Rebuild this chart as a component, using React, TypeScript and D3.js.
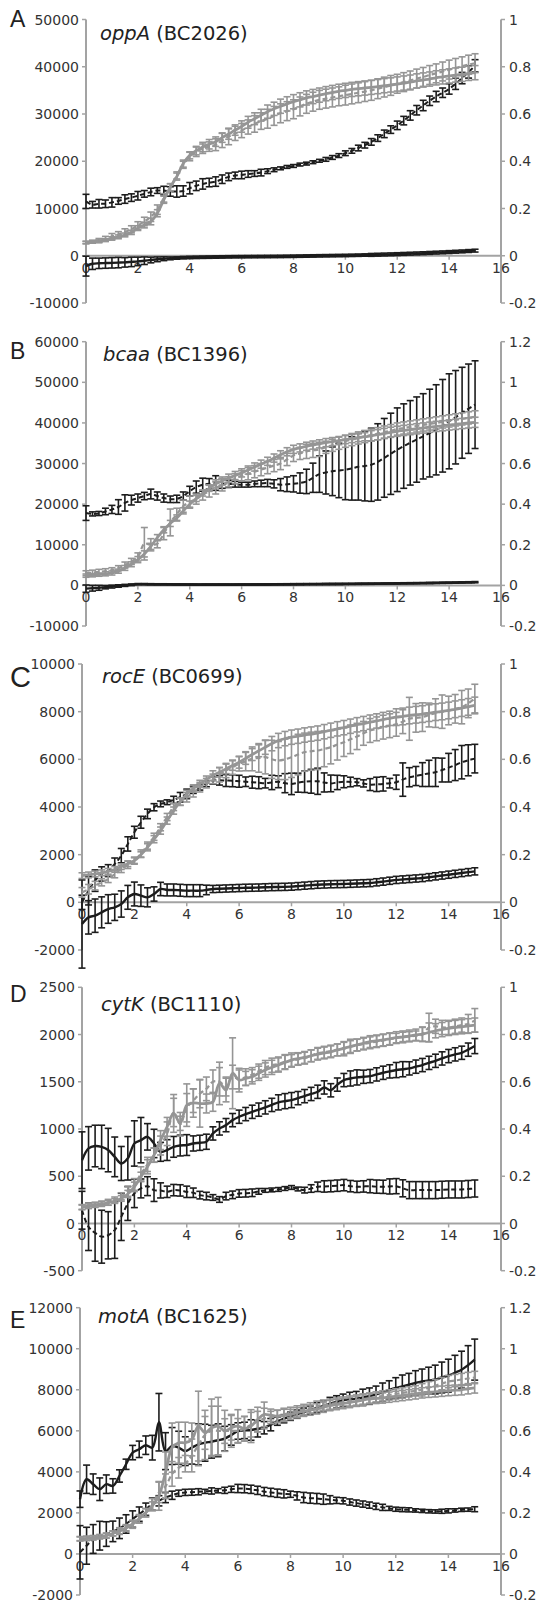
import React from "react";
import * as d3 from "d3";

// sampling times (h)
const times = [0,0.25,0.5,0.75,1,1.25,1.5,1.75,2,2.25,2.5,2.75,3,3.25,3.5,3.75,4,4.25,4.5,4.75,5,5.25,5.5,5.75,6,6.25,6.5,6.75,7,7.25,7.5,7.75,8,8.25,8.5,8.75,9,9.25,9.5,9.75,10,10.25,10.5,10.75,11,11.25,11.5,11.75,12,12.25,12.5,12.75,13,13.25,13.5,13.75,14,14.25,14.5,14.75,15];
const xTicks = [0, 2, 4, 6, 8, 10, 12, 14, 16];
const odTicks1 = [-0.2, 0, 0.2, 0.4, 0.6, 0.8, 1];
const odTicks12 = [-0.2, 0, 0.2, 0.4, 0.6, 0.8, 1, 1.2];

// A - oppA
const aFluoTicks = [-10000, 0, 10000, 20000, 30000, 40000, 50000];
const aBlkDash = [11500,10800,11000,11000,11300,11600,12000,12300,12700,13100,13500,13800,13800,13600,13600,13700,
  14300,14800,15200,15500,15700,16200,16700,17000,17100,17300,17400,17600,17900,18200,18500,18800,
  19000,19300,19500,19800,20100,20400,20800,21200,21700,22200,22800,23400,24100,24900,25800,26700,
  27600,28600,29700,30800,31800,32800,33700,34500,35300,36400,37600,38900,40200];
const aBlkDashErr = [1500,700,900,800,1000,700,900,800,900,700,800,600,900,1000,1200,1100,
  1200,1000,1100,900,1000,900,800,700,800,700,600,700,500,400,300,300,
  300,300,300,300,300,400,400,400,500,500,600,600,700,700,800,800,
  900,900,1000,1000,1100,1000,1100,1000,1100,1200,1200,1300,1300];
const aBlkSolid = [-2200,-1700,-1600,-1550,-1500,-1450,-1400,-1300,-1200,-1050,-900,-750,-630,-550,-480,-420,
  -370,-340,-310,-290,-270,-250,-230,-210,-200,-190,-180,-170,-160,-150,-140,-120,
  -100,-80,-60,-40,-20,0,20,40,60,90,120,150,180,220,260,300,
  340,390,440,490,540,600,660,720,780,850,920,1000,1080];
const aBlkSolidErr = [2100,1200,1100,1100,1100,1100,1000,1000,900,800,600,500,400,300,250,250,
  250,250,250,250,250,250,250,250,250,250,250,250,250,250,250,250,
  250,250,250,250,250,250,250,250,250,250,250,250,300,300,300,300,
  300,300,300,300,300,300,300,300,300,300,300,300,300];
const aGrySolid = [0.056,0.058,0.061,0.066,0.073,0.08,0.088,0.099,0.117,0.13,0.145,0.18,0.237,0.29,0.335,0.39,
  0.425,0.445,0.46,0.472,0.483,0.5,0.515,0.532,0.547,0.565,0.58,0.595,0.61,0.622,0.633,0.643,
  0.652,0.66,0.668,0.674,0.68,0.686,0.691,0.696,0.7,0.704,0.707,0.71,0.713,0.716,0.72,0.723,
  0.727,0.731,0.735,0.74,0.744,0.748,0.753,0.757,0.761,0.765,0.768,0.772,0.775];
const aGrySolidErr = [0.005,0.005,0.006,0.006,0.007,0.008,0.008,0.009,0.01,0.012,0.014,0.015,0.015,0.015,0.015,0.015,
  0.015,0.018,0.02,0.02,0.02,0.02,0.022,0.022,0.024,0.025,0.025,0.025,0.028,0.028,0.03,0.03,
  0.03,0.03,0.03,0.03,0.03,0.03,0.03,0.03,0.03,0.03,0.03,0.03,0.03,0.03,0.03,0.03,
  0.03,0.03,0.03,0.03,0.03,0.03,0.03,0.03,0.03,0.03,0.03,0.03,0.03];
const aGryDash = [0.056,0.06,0.065,0.072,0.082,0.09,0.1,0.112,0.128,0.145,0.165,0.195,0.245,0.29,0.34,0.385,
  0.42,0.44,0.453,0.462,0.47,0.488,0.505,0.518,0.53,0.545,0.558,0.57,0.58,0.592,0.603,0.612,
  0.62,0.632,0.643,0.652,0.66,0.665,0.67,0.675,0.68,0.685,0.69,0.695,0.7,0.707,0.714,0.721,
  0.728,0.735,0.742,0.75,0.757,0.765,0.772,0.78,0.788,0.795,0.802,0.809,0.815];
const aGryDashErr = [0.005,0.006,0.008,0.01,0.012,0.012,0.014,0.015,0.016,0.018,0.02,0.02,0.018,0.015,0.015,0.015,
  0.018,0.02,0.02,0.02,0.025,0.03,0.035,0.03,0.03,0.03,0.035,0.035,0.04,0.04,0.04,0.04,
  0.04,0.04,0.04,0.04,0.04,0.04,0.04,0.04,0.042,0.042,0.042,0.042,0.042,0.042,0.042,0.042,
  0.04,0.04,0.04,0.04,0.04,0.04,0.04,0.04,0.04,0.04,0.04,0.04,0.04];

// B - bcaa
const bFluoTicks = [-10000, 0, 10000, 20000, 30000, 40000, 50000, 60000];
const bBlkDash = [17800,17600,17700,18200,18700,19300,20300,21000,21500,22000,22500,22000,21500,21200,21300,22000,
  23200,24200,24800,25000,25200,25100,25000,24900,24800,24800,25000,25100,25200,25000,24800,24900,
  25000,25200,25600,26500,27400,27800,28100,28300,28500,28800,29200,29400,29700,30400,31400,32400,
  33400,34300,35100,35900,36700,37500,38300,39300,40400,41400,42500,43500,44500];
const bBlkDashErr = [1800,500,500,800,1000,1800,2000,1200,1000,900,1200,1000,1000,800,900,1000,
  1200,1500,1600,1300,1800,1200,900,700,600,600,700,800,900,1000,1500,1800,
  2000,2500,3000,3600,4500,5300,6000,6700,7400,7800,8200,8600,9000,9400,9700,10000,
  10300,10400,10400,10500,10500,10800,11100,11400,11700,11500,11200,11000,10800];
const bBlkSolid = [-800,-700,-600,-450,-300,-150,0,150,300,300,270,250,250,240,230,220,
  210,200,200,200,200,200,200,200,210,215,220,225,230,240,250,260,
  280,290,300,310,320,330,340,350,360,375,390,405,420,435,450,465,
  480,500,520,540,560,585,610,635,660,690,720,750,790];
const bBlkSolidErr = [900,700,600,400,350,300,250,200,150,150,150,150,150,150,150,150,
  150,150,150,150,150,150,150,150,150,150,150,150,150,150,150,150,
  150,150,150,150,150,150,150,150,150,150,150,150,150,150,150,150,
  150,150,150,150,150,150,150,150,150,150,150,150,150];
const bGrySolid = [0.048,0.05,0.053,0.057,0.061,0.07,0.086,0.104,0.127,0.155,0.192,0.235,0.274,0.305,0.332,0.367,
  0.4,0.428,0.455,0.478,0.5,0.514,0.528,0.541,0.554,0.568,0.583,0.597,0.611,0.627,0.643,0.658,
  0.67,0.677,0.685,0.691,0.697,0.703,0.708,0.713,0.718,0.723,0.728,0.732,0.737,0.742,0.748,0.754,
  0.759,0.763,0.767,0.771,0.775,0.779,0.783,0.786,0.79,0.793,0.797,0.8,0.803];
const bGrySolidErr = [0.008,0.008,0.008,0.01,0.01,0.01,0.012,0.012,0.015,0.015,0.015,0.015,0.015,0.015,0.015,0.015,
  0.015,0.015,0.015,0.015,0.02,0.02,0.02,0.02,0.02,0.02,0.02,0.02,0.02,0.02,0.02,0.02,
  0.02,0.02,0.02,0.02,0.02,0.02,0.02,0.02,0.02,0.02,0.02,0.02,0.025,0.025,0.025,0.025,
  0.025,0.025,0.025,0.025,0.025,0.025,0.025,0.025,0.025,0.025,0.025,0.025,0.025];
const bGryDash = [0.06,0.063,0.067,0.07,0.075,0.085,0.1,0.118,0.14,0.205,0.2,0.205,0.255,0.31,0.35,0.39,
  0.41,0.425,0.445,0.465,0.48,0.495,0.51,0.525,0.54,0.55,0.56,0.57,0.58,0.59,0.6,0.62,
  0.64,0.65,0.66,0.665,0.67,0.68,0.69,0.7,0.71,0.718,0.726,0.733,0.74,0.747,0.755,0.762,
  0.77,0.775,0.78,0.785,0.79,0.795,0.8,0.805,0.81,0.815,0.82,0.825,0.83];
const bGryDashErr = [0.012,0.012,0.012,0.012,0.012,0.012,0.015,0.015,0.02,0.08,0.03,0.02,0.03,0.066,0.03,0.03,
  0.03,0.025,0.025,0.03,0.03,0.03,0.025,0.025,0.025,0.03,0.03,0.03,0.03,0.03,0.03,0.03,
  0.03,0.03,0.035,0.035,0.035,0.03,0.03,0.03,0.03,0.03,0.03,0.03,0.03,0.03,0.03,0.03,
  0.03,0.03,0.03,0.03,0.03,0.03,0.03,0.03,0.03,0.03,0.03,0.03,0.03];

// C - rocE
const cFluoTicks = [-2000, 0, 2000, 4000, 6000, 8000, 10000];
const cBlkDash = [0,490,910,1190,1330,1610,1960,2450,2940,3360,3710,3990,4130,4200,4300,4410,
  4550,4720,4830,4970,5110,5120,5110,5100,5080,5060,5040,5020,5000,5030,5060,5000,
  4970,5020,5060,5080,5080,5030,4990,5030,5060,5050,5040,4990,4940,4950,4970,5000,
  5040,5150,5250,5300,5360,5410,5460,5550,5650,5760,5880,5960,6030];
const cBlkDashErr = [300,600,450,300,250,250,300,300,250,250,200,150,120,100,150,200,
  200,150,120,120,150,200,250,250,250,200,250,250,200,300,250,400,
  450,400,450,500,550,400,350,300,250,200,150,150,250,300,300,200,
  300,700,400,400,500,550,600,500,600,650,700,650,600];
const cBlkSolid = [-910,-630,-560,-420,-280,-210,-70,210,350,280,210,350,560,520,520,505,
  490,490,490,520,560,570,580,590,600,610,615,620,630,640,645,650,
  660,680,700,720,740,750,760,765,770,780,790,800,810,840,870,905,
  940,960,980,1000,1020,1055,1090,1125,1160,1195,1230,1265,1300];
const cBlkSolidErr = [1850,700,700,650,600,550,550,500,500,450,400,300,280,250,250,250,
  250,250,250,200,150,150,150,150,150,150,150,150,150,150,150,150,
  150,150,150,150,150,150,150,150,150,150,150,150,150,150,150,150,
  150,150,150,150,150,150,150,150,150,150,150,150,150];
const cGrySolid = [0.112,0.115,0.119,0.124,0.13,0.138,0.15,0.162,0.175,0.2,0.231,0.265,0.301,0.343,0.385,0.422,
  0.455,0.478,0.497,0.515,0.532,0.546,0.56,0.574,0.588,0.604,0.62,0.636,0.651,0.666,0.679,0.687,
  0.693,0.697,0.702,0.706,0.71,0.716,0.722,0.728,0.733,0.739,0.745,0.75,0.756,0.761,0.767,0.772,
  0.777,0.78,0.784,0.787,0.79,0.794,0.798,0.801,0.805,0.81,0.815,0.82,0.826];
const cGrySolidErr = [0.012,0.012,0.012,0.012,0.012,0.012,0.012,0.012,0.012,0.012,0.015,0.015,0.015,0.015,0.015,0.015,
  0.015,0.015,0.015,0.015,0.02,0.02,0.02,0.02,0.025,0.025,0.025,0.025,0.03,0.03,0.03,0.03,
  0.03,0.03,0.03,0.03,0.03,0.03,0.03,0.03,0.03,0.03,0.03,0.03,0.03,0.03,0.03,0.03,
  0.035,0.035,0.035,0.035,0.035,0.035,0.035,0.035,0.035,0.035,0.035,0.035,0.035];
const cGryDash = [0.042,0.055,0.07,0.084,0.098,0.118,0.14,0.157,0.175,0.205,0.238,0.275,0.315,0.358,0.4,0.422,
  0.441,0.462,0.483,0.5,0.518,0.535,0.553,0.567,0.581,0.592,0.602,0.606,0.609,0.6,0.595,0.6,
  0.609,0.62,0.63,0.634,0.637,0.644,0.651,0.662,0.672,0.684,0.696,0.709,0.721,0.728,0.735,0.741,
  0.747,0.758,0.77,0.774,0.777,0.786,0.794,0.8,0.805,0.812,0.819,0.835,0.855];
const cGryDashErr = [0.02,0.02,0.018,0.015,0.015,0.015,0.015,0.015,0.015,0.015,0.015,0.015,0.015,0.015,0.015,0.015,
  0.02,0.02,0.02,0.02,0.02,0.03,0.03,0.03,0.03,0.04,0.05,0.06,0.07,0.08,0.08,0.085,
  0.085,0.085,0.08,0.08,0.08,0.075,0.07,0.065,0.06,0.06,0.055,0.05,0.05,0.05,0.05,0.05,
  0.05,0.05,0.09,0.06,0.06,0.05,0.06,0.07,0.06,0.06,0.07,0.06,0.06];

// D - cytK
const dFluoTicks = [-500, 0, 500, 1000, 1500, 2000, 2500];
const dBlkSolid = [670,795,820,810,777,705,635,690,847,882,917,847,758,777,811,825,
  830,847,854,865,953,1006,1041,1094,1130,1158,1182,1205,1229,1255,1282,1295,
  1306,1327,1348,1371,1394,1440,1410,1470,1518,1535,1546,1553,1560,1578,1595,1610,
  1624,1633,1642,1660,1677,1700,1722,1747,1772,1790,1807,1840,1878];
const dBlkSolidErr = [300,230,220,230,230,210,180,230,240,240,140,150,100,110,110,110,
  110,80,80,80,70,70,70,70,70,70,70,70,70,70,80,80,
  80,70,70,70,70,70,70,70,70,80,80,70,70,70,70,70,
  80,80,70,70,70,70,70,70,70,70,70,70,80];
const dBlkDash = [140,-36,-100,-140,-125,-70,70,212,318,371,395,353,350,335,353,350,
  335,325,300,290,275,254,290,303,318,320,325,340,350,355,360,370,
  381,365,353,370,388,392,395,400,406,395,388,392,395,390,388,392,
  395,372,353,353,353,353,353,357,360,360,360,365,370];
const dBlkDashErr = [200,250,300,280,250,300,250,180,150,100,100,120,80,60,60,60,
  60,50,40,40,30,30,40,40,40,40,40,30,20,20,20,20,
  20,20,30,40,50,60,60,60,60,60,60,60,70,70,70,80,
  80,90,90,90,90,90,90,90,90,90,90,90,90];
const dGrySolid = [0.068,0.073,0.078,0.082,0.087,0.095,0.106,0.125,0.155,0.197,0.24,0.289,0.353,0.409,0.466,0.424,
  0.501,0.51,0.508,0.508,0.515,0.593,0.565,0.636,0.607,0.614,0.621,0.636,0.65,0.661,0.671,0.682,
  0.692,0.698,0.703,0.71,0.717,0.722,0.727,0.735,0.742,0.749,0.756,0.763,0.77,0.773,0.777,0.782,
  0.787,0.79,0.794,0.798,0.802,0.809,0.816,0.821,0.826,0.83,0.833,0.837,0.84];
const dGrySolidErr = [0.01,0.01,0.01,0.01,0.01,0.01,0.012,0.015,0.02,0.02,0.03,0.03,0.04,0.04,0.08,0.03,
  0.09,0.06,0.1,0.04,0.04,0.09,0.05,0.15,0.05,0.03,0.03,0.03,0.03,0.03,0.03,0.03,
  0.03,0.025,0.025,0.025,0.025,0.025,0.025,0.025,0.025,0.025,0.025,0.025,0.025,0.025,0.025,0.025,
  0.025,0.025,0.025,0.025,0.03,0.04,0.03,0.03,0.03,0.03,0.03,0.03,0.03];
const dGryDash = [0.07,0.075,0.08,0.085,0.09,0.1,0.115,0.135,0.165,0.21,0.25,0.29,0.33,0.38,0.47,0.42,
  0.49,0.52,0.55,0.57,0.6,0.6,0.58,0.62,0.61,0.62,0.63,0.645,0.66,0.67,0.675,0.685,
  0.69,0.695,0.7,0.71,0.72,0.725,0.73,0.735,0.74,0.75,0.755,0.76,0.765,0.77,0.775,0.78,
  0.785,0.79,0.792,0.795,0.8,0.83,0.835,0.83,0.83,0.835,0.84,0.845,0.86];
const dGryDashErr = [0.01,0.01,0.01,0.01,0.012,0.012,0.015,0.02,0.025,0.03,0.03,0.03,0.04,0.05,0.06,0.05,
  0.06,0.05,0.06,0.05,0.05,0.06,0.04,0.05,0.04,0.035,0.03,0.03,0.03,0.03,0.03,0.03,
  0.025,0.025,0.025,0.025,0.025,0.025,0.025,0.025,0.03,0.03,0.025,0.025,0.025,0.025,0.025,0.025,
  0.02,0.02,0.02,0.02,0.03,0.06,0.03,0.03,0.03,0.03,0.03,0.04,0.05];

// E - motA
const eFluoTicks = [-2000, 0, 2000, 4000, 6000, 8000, 10000, 12000];
const eBlkSolid = [2670,3640,3400,3155,3400,3315,3800,4370,4940,5100,5300,5180,6420,5010,5260,5180,
  5010,5180,5340,5420,5470,5540,5620,5800,5990,6020,6040,6100,6150,6300,6470,6590,
  6710,6810,6910,7010,7120,7220,7330,7410,7490,7530,7570,7630,7690,7780,7880,7990,
  8090,8170,8250,8330,8410,8450,8500,8600,8690,8830,8980,9200,9470];
const eBlkSolidErr = [400,690,500,550,450,350,300,250,350,400,450,600,1400,900,900,800,
  700,800,1000,900,800,800,600,500,400,400,500,400,300,300,200,200,
  200,200,200,200,250,250,300,300,300,350,350,400,400,400,450,450,
  500,550,550,600,600,650,700,750,800,850,900,950,1000];
const eBlkDash = [80,400,730,890,970,1100,1250,1460,1700,1940,2180,2430,2590,2750,2860,2960,
  3000,3010,3030,3050,3070,3080,3100,3150,3190,3180,3150,3100,3040,3000,2960,2930,
  2910,2830,2750,2720,2700,2670,2640,2610,2590,2530,2480,2430,2380,2320,2270,2220,
  2180,2160,2150,2120,2100,2080,2070,2080,2100,2120,2150,2160,2180];
const eBlkDashErr = [1300,900,700,700,600,500,500,450,400,350,300,300,250,250,200,150,
  150,150,150,100,150,100,150,150,200,200,200,200,200,200,200,200,
  150,200,250,250,250,250,200,150,150,150,150,150,150,150,150,100,
  100,100,100,80,80,80,80,100,100,80,80,80,120];
const eGrySolid = [0.073,0.075,0.078,0.083,0.089,0.1,0.113,0.128,0.146,0.172,0.202,0.234,0.283,0.397,0.518,0.542,
  0.542,0.558,0.623,0.59,0.615,0.623,0.599,0.615,0.623,0.61,0.623,0.655,0.68,0.676,0.671,0.675,
  0.68,0.688,0.696,0.701,0.707,0.715,0.723,0.728,0.733,0.738,0.744,0.75,0.756,0.758,0.76,0.764,
  0.768,0.772,0.776,0.78,0.785,0.788,0.79,0.793,0.796,0.798,0.8,0.805,0.809];
const eGrySolidErr = [0.01,0.01,0.01,0.01,0.012,0.012,0.015,0.015,0.015,0.02,0.02,0.02,0.07,0.1,0.12,0.1,
  0.1,0.08,0.17,0.08,0.14,0.14,0.06,0.06,0.08,0.06,0.08,0.06,0.06,0.03,0.03,0.03,
  0.025,0.025,0.025,0.025,0.025,0.025,0.025,0.025,0.025,0.025,0.025,0.025,0.025,0.025,0.025,0.025,
  0.025,0.025,0.025,0.025,0.025,0.025,0.025,0.025,0.025,0.025,0.025,0.025,0.025];
const eGryDash = [0.075,0.077,0.08,0.085,0.09,0.1,0.11,0.125,0.145,0.17,0.2,0.24,0.3,0.33,0.39,0.42,
  0.44,0.48,0.53,0.58,0.6,0.6,0.6,0.6,0.6,0.61,0.63,0.645,0.66,0.665,0.67,0.68,
  0.69,0.697,0.704,0.712,0.72,0.725,0.73,0.735,0.74,0.745,0.75,0.755,0.76,0.765,0.77,0.775,
  0.78,0.785,0.79,0.795,0.8,0.81,0.82,0.83,0.84,0.845,0.85,0.855,0.86];
const eGryDashErr = [0.01,0.01,0.01,0.01,0.012,0.012,0.015,0.015,0.02,0.02,0.02,0.03,0.05,0.06,0.06,0.05,
  0.04,0.08,0.1,0.12,0.12,0.12,0.1,0.08,0.06,0.06,0.06,0.05,0.05,0.03,0.03,0.03,
  0.025,0.025,0.025,0.025,0.025,0.025,0.025,0.025,0.025,0.025,0.025,0.025,0.025,0.025,0.025,0.025,
  0.025,0.025,0.025,0.025,0.03,0.03,0.03,0.03,0.03,0.03,0.03,0.03,0.03];

const BLACK = "#1c1c1c";
const GREY = "#959595";
const AXIS = "#a3a3a3";
const FONT = "'DejaVu Sans', Verdana, sans-serif";

type Series = { v: number[]; e: number[]; right: boolean; dashed: boolean };

const panels = [
  { letter: "A", gene: "oppA", code: "(BC2026)", fluo: aFluoTicks, od: odTicks1, left: 86, top: 19.5, bottom: 303, letterY: 27, titleX: 100, titleY: 40,
    series: [
      { v: aBlkSolid, e: aBlkSolidErr, right: false, dashed: false },
      { v: aBlkDash, e: aBlkDashErr, right: false, dashed: true },
      { v: aGrySolid, e: aGrySolidErr, right: true, dashed: false },
      { v: aGryDash, e: aGryDashErr, right: true, dashed: true },
    ] },
  { letter: "B", gene: "bcaa", code: "(BC1396)", fluo: bFluoTicks, od: odTicks12, left: 86, top: 341.7, bottom: 626, letterY: 359, titleX: 103, titleY: 361,
    series: [
      { v: bBlkSolid, e: bBlkSolidErr, right: false, dashed: false },
      { v: bBlkDash, e: bBlkDashErr, right: false, dashed: true },
      { v: bGrySolid, e: bGrySolidErr, right: true, dashed: false },
      { v: bGryDash, e: bGryDashErr, right: true, dashed: true },
    ] },
  { letter: "C", gene: "rocE", code: "(BC0699)", fluo: cFluoTicks, od: odTicks1, left: 82, top: 664, bottom: 950, letterY: 687, titleX: 102, titleY: 683,
    series: [
      { v: cBlkSolid, e: cBlkSolidErr, right: false, dashed: false },
      { v: cBlkDash, e: cBlkDashErr, right: false, dashed: true },
      { v: cGrySolid, e: cGrySolidErr, right: true, dashed: false },
      { v: cGryDash, e: cGryDashErr, right: true, dashed: true },
    ] },
  { letter: "D", gene: "cytK", code: "(BC1110)", fluo: dFluoTicks, od: odTicks1, left: 82, top: 987.3, bottom: 1270.7, letterY: 1002, titleX: 101, titleY: 1011,
    series: [
      { v: dBlkSolid, e: dBlkSolidErr, right: false, dashed: false },
      { v: dBlkDash, e: dBlkDashErr, right: false, dashed: true },
      { v: dGrySolid, e: dGrySolidErr, right: true, dashed: false },
      { v: dGryDash, e: dGryDashErr, right: true, dashed: true },
    ] },
  { letter: "E", gene: "motA", code: "(BC1625)", fluo: eFluoTicks, od: odTicks12, left: 80, top: 1307.7, bottom: 1595, letterY: 1328, titleX: 98, titleY: 1323,
    series: [
      { v: eBlkSolid, e: eBlkSolidErr, right: false, dashed: false },
      { v: eBlkDash, e: eBlkDashErr, right: false, dashed: true },
      { v: eGrySolid, e: eGrySolidErr, right: true, dashed: false },
      { v: eGryDash, e: eGryDashErr, right: true, dashed: true },
    ] },
];

const RIGHT = 501;

function Panel({ p }: { p: (typeof panels)[number] }) {
  const x = d3.scaleLinear().domain([0, 16]).range([p.left, RIGHT]);
  const yL = d3.scaleLinear().domain([p.fluo[0], p.fluo[p.fluo.length - 1]]).range([p.bottom, p.top]);
  const yR = d3.scaleLinear().domain([p.od[0], p.od[p.od.length - 1]]).range([p.bottom, p.top]);
  const y0 = yL(0);

  const drawSeries = (s: Series, k: number) => {
    const y = s.right ? yR : yL;
    const color = s.right ? GREY : BLACK;
    const line = d3
      .line<number>()
      .x((_, i) => x(times[i]))
      .y((d) => y(d))
      .curve(d3.curveCatmullRom.alpha(0.5));
    return (
      <g key={k}>
        {s.v.map((d, i) => {
          const cx = x(times[i]);
          const y1 = y(d - s.e[i]);
          const y2 = y(d + s.e[i]);
          return (
            <g key={i} stroke={color} strokeWidth={1.6}>
              <line x1={cx} x2={cx} y1={y1} y2={y2} />
              <line x1={cx - 3.5} x2={cx + 3.5} y1={y1} y2={y1} />
              <line x1={cx - 3.5} x2={cx + 3.5} y1={y2} y2={y2} />
            </g>
          );
        })}
        <path
          d={line(s.v) || ""}
          fill="none"
          stroke={color}
          strokeWidth={s.right ? (s.dashed ? 2.2 : 2.8) : s.dashed ? 2 : 2.4}
          strokeDasharray={s.dashed ? "5,3" : undefined}
        />
      </g>
    );
  };

  return (
    <g>
      {/* axes */}
      <line x1={p.left} x2={p.left} y1={p.top} y2={p.bottom} stroke={AXIS} strokeWidth={2} />
      <line x1={RIGHT} x2={RIGHT} y1={p.top} y2={p.bottom} stroke={AXIS} strokeWidth={2} />
      <line x1={p.left} x2={RIGHT} y1={y0} y2={y0} stroke={AXIS} strokeWidth={2} />
      {p.fluo.map((t) => (
        <g key={"l" + t}>
          <line x1={p.left - 4} x2={p.left} y1={yL(t)} y2={yL(t)} stroke={AXIS} strokeWidth={1.5} />
          <text x={p.left - 7} y={yL(t)} dy="0.36em" textAnchor="end" fontSize={14} fill="#333" fontFamily={FONT}>
            {String(t)}
          </text>
        </g>
      ))}
      {p.od.map((t) => (
        <g key={"r" + t}>
          <line x1={RIGHT} x2={RIGHT + 4} y1={yR(t)} y2={yR(t)} stroke={AXIS} strokeWidth={1.5} />
          <text x={RIGHT + 8} y={yR(t)} dy="0.36em" fontSize={14} fill="#333" fontFamily={FONT}>
            {String(t)}
          </text>
        </g>
      ))}
      {xTicks.map((t) => (
        <g key={"x" + t}>
          <line x1={x(t)} x2={x(t)} y1={y0} y2={y0 + 4} stroke={AXIS} strokeWidth={1.5} />
          <text x={x(t)} y={y0 + 17} textAnchor="middle" fontSize={14} fill="#333" fontFamily={FONT}>
            {String(t)}
          </text>
        </g>
      ))}
      {p.series.map((s, k) => drawSeries(s, k))}
      <text x={10} y={p.letterY} fontSize={p.letter === "C" ? 29 : 23} fill="#222" fontFamily="'Liberation Sans', Arial, sans-serif">
        {p.letter}
      </text>
      <text x={p.titleX} y={p.titleY} fontSize={19.5} fill="#222" fontFamily={FONT}>
        <tspan fontStyle="italic">{p.gene}</tspan>
        {" " + p.code}
      </text>
    </g>
  );
}

export default function App() {
  return (
    <svg
      width={541}
      height={1604}
      style={{ position: "absolute", left: 0, top: 0, background: "#fff" }}
    >
      <rect width={541} height={1604} fill="#fff" />
      {panels.map((p) => (
        <Panel key={p.letter} p={p} />
      ))}
    </svg>
  );
}
